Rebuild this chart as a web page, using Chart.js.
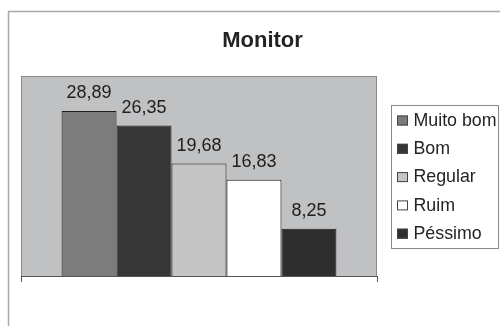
<!DOCTYPE html>
<html>
<head>
<meta charset="utf-8">
<script src="https://cdn.jsdelivr.net/npm/chart.js@4"></script>
<style>
  html, body { margin: 0; padding: 0; background: #ffffff; }
  #wrap { width: 500px; height: 326px; }
</style>
</head>
<body>
<div id="wrap"><canvas id="c" width="500" height="326"></canvas></div>
<script>
const chartTitle = 'Monitor';
const categories = ['Monitor'];
const seriesNames = ['Muito bom', 'Bom', 'Regular', 'Ruim', 'Péssimo'];
const seriesValues = [28.89, 26.35, 19.68, 16.83, 8.25];
const seriesColors = ['#7c7c7c', '#363636', '#c5c5c5', '#ffffff', '#2e2e2e'];
const yMin = 0;
const yMax = 35;

const fmt = v => v.toFixed(2).replace('.', ',');

// Outer frame, title and grey plot background
const framePlugin = {
  id: 'frame',
  beforeDraw(chart) {
    const ctx = chart.ctx;
    const a = chart.chartArea;
    ctx.save();
    ctx.fillStyle = '#ffffff';
    ctx.fillRect(0, 0, chart.width, chart.height);
    ctx.strokeStyle = '#a8a8a8';
    ctx.lineWidth = 1.5;
    ctx.beginPath();
    ctx.moveTo(8.5, chart.height);
    ctx.lineTo(8.5, 11.5);
    ctx.lineTo(chart.width, 11.5);
    ctx.stroke();

    ctx.fillStyle = '#c0c1c3';
    ctx.fillRect(a.left, a.top, a.right - a.left, a.bottom - a.top);
    ctx.strokeStyle = '#8a8a8a';
    ctx.lineWidth = 1;
    ctx.strokeRect(a.left + 0.5, a.top + 0.5, a.right - a.left - 1, a.bottom - a.top);

    ctx.fillStyle = '#242424';
    ctx.font = 'bold 22px "Liberation Sans", Arial, sans-serif';
    ctx.textAlign = 'center';
    ctx.textBaseline = 'alphabetic';
    ctx.fillText(chartTitle, 262.5, 47);
    ctx.restore();
  }
};

// Value labels above each bar
const valueLabels = {
  id: 'valueLabels',
  afterDatasetsDraw(chart) {
    const ctx = chart.ctx;
    ctx.save();
    ctx.fillStyle = '#202020';
    ctx.font = '18px "Liberation Sans", Arial, sans-serif';
    ctx.textAlign = 'center';
    ctx.textBaseline = 'alphabetic';
    chart.data.datasets.forEach((ds, i) => {
      const meta = chart.getDatasetMeta(i);
      meta.data.forEach((bar, j) => {
        ctx.fillText(fmt(ds.data[j]), bar.x, bar.y - 12.5);
      });
    });
    ctx.restore();
  }
};

// Boxed legend on the right
const boxLegend = {
  id: 'boxLegend',
  afterDraw(chart) {
    const ctx = chart.ctx;
    const bx = 391.5, by = 105.5, bw = 107, bh = 143;
    ctx.save();
    ctx.fillStyle = '#ffffff';
    ctx.fillRect(bx, by, bw, bh);
    ctx.strokeStyle = '#8a8a8a';
    ctx.lineWidth = 1;
    ctx.strokeRect(bx, by, bw, bh);
    ctx.font = '17.8px "Liberation Sans", Arial, sans-serif';
    ctx.textAlign = 'left';
    ctx.textBaseline = 'middle';
    chart.data.datasets.forEach((ds, i) => {
      const cy = 120.5 + i * 28.3;
      ctx.fillStyle = ds.backgroundColor;
      ctx.fillRect(397, cy - 5, 11, 10);
      ctx.strokeStyle = '#444444';
      ctx.strokeRect(397.5, cy - 4.5, 10, 9);
      ctx.fillStyle = '#242424';
      ctx.fillText(ds.label, 413.5, cy + 0.5);
    });
    ctx.restore();
  }
};

new Chart(document.getElementById('c'), {
  type: 'bar',
  data: {
    labels: categories,
    datasets: seriesNames.map((name, i) => ({
      label: name,
      data: [seriesValues[i]],
      backgroundColor: seriesColors[i],
      borderColor: '#1e1e1e',
      borderWidth: 1,
      categoryPercentage: 0.772,
      barPercentage: 1.0
    }))
  },
  options: {
    responsive: false,
    animation: false,
    devicePixelRatio: 1,
    layout: { padding: { left: 21, right: 123, top: 76, bottom: 44 } },
    plugins: {
      legend: { display: false },
      title: { display: false },
      tooltip: { enabled: false }
    },
    scales: {
      x: {
        display: true,
        offset: true,
        ticks: { display: false },
        grid: {
          display: true,
          drawOnChartArea: false,
          drawTicks: true,
          tickLength: 6,
          color: '#555555',
          offset: true
        },
        border: { display: true, color: '#555555', width: 1 }
      },
      y: {
        display: false,
        min: yMin,
        max: yMax
      }
    }
  },
  plugins: [framePlugin, valueLabels, boxLegend]
});
</script>
</body>
</html>
